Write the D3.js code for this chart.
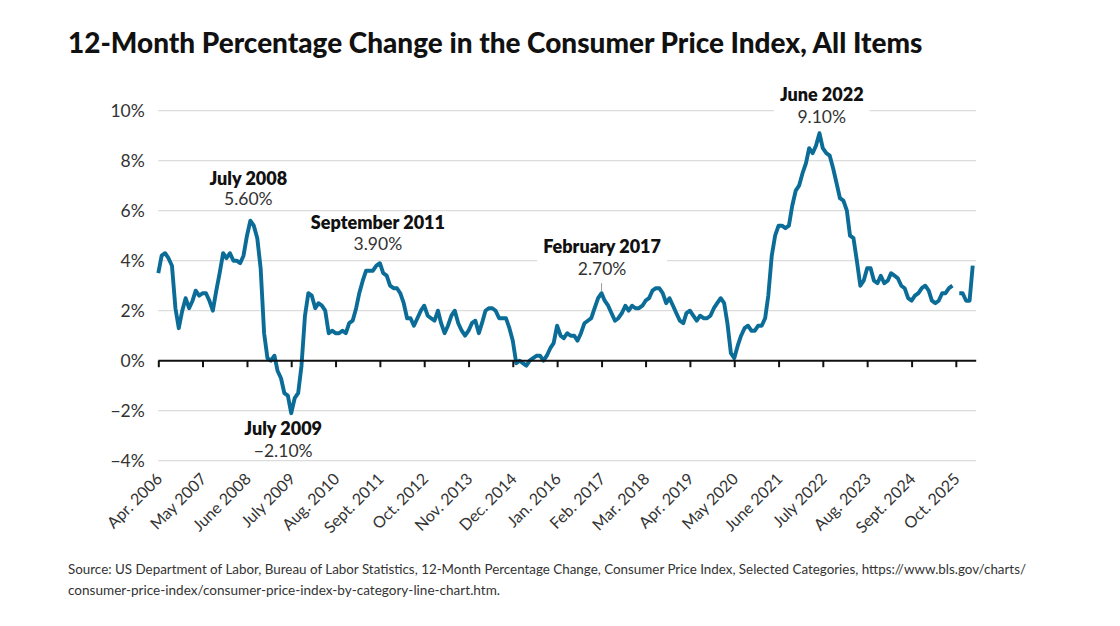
<!DOCTYPE html>
<html><head><meta charset="utf-8">
<script src="https://cdn.jsdelivr.net/npm/d3@7"></script>
<style>
html,body{margin:0;padding:0;background:#fff;}
svg{display:block;font-family:Lato,"Noto Sans",sans-serif;}
</style></head><body>
<svg id="chart" width="1120" height="626"></svg>
<script>
// ---------- DATA ----------
const firstMonth = "2006-04";   // first monthly observation
const lastAxisMonth = "2026-04"; // right end of the x axis
// 12-month % change, monthly from Apr 2006 (null = not published)
const cpi2006 = [3.5, 4.2, 4.3, 4.1, 3.8, 2.1, 1.3, 2.0, 2.5];
const cpi2007 = [2.1, 2.4, 2.8, 2.6, 2.7, 2.7, 2.4, 2.0, 2.8, 3.5, 4.3, 4.1];
const cpi2008 = [4.3, 4.0, 4.0, 3.9, 4.2, 5.0, 5.6, 5.4, 4.9, 3.7, 1.1, 0.1];
const cpi2009 = [0.0, 0.2, -0.4, -0.7, -1.3, -1.4, -2.1, -1.5, -1.3, -0.2, 1.8, 2.7];
const cpi2010 = [2.6, 2.1, 2.3, 2.2, 2.0, 1.1, 1.2, 1.1, 1.1, 1.2, 1.1, 1.5];
const cpi2011 = [1.6, 2.1, 2.7, 3.2, 3.6, 3.6, 3.6, 3.8, 3.9, 3.5, 3.4, 3.0];
const cpi2012 = [2.9, 2.9, 2.7, 2.3, 1.7, 1.7, 1.4, 1.7, 2.0, 2.2, 1.8, 1.7];
const cpi2013 = [1.6, 2.0, 1.5, 1.1, 1.4, 1.8, 2.0, 1.5, 1.2, 1.0, 1.2, 1.5];
const cpi2014 = [1.6, 1.1, 1.5, 2.0, 2.1, 2.1, 2.0, 1.7, 1.7, 1.7, 1.3, 0.8];
const cpi2015 = [-0.1, 0.0, -0.1, -0.2, 0.0, 0.1, 0.2, 0.2, 0.0, 0.2, 0.5, 0.7];
const cpi2016 = [1.4, 1.0, 0.9, 1.1, 1.0, 1.0, 0.8, 1.1, 1.5, 1.6, 1.7, 2.1];
const cpi2017 = [2.5, 2.7, 2.4, 2.2, 1.9, 1.6, 1.7, 1.9, 2.2, 2.0, 2.2, 2.1];
const cpi2018 = [2.1, 2.2, 2.4, 2.5, 2.8, 2.9, 2.9, 2.7, 2.3, 2.5, 2.2, 1.9];
const cpi2019 = [1.6, 1.5, 1.9, 2.0, 1.8, 1.6, 1.8, 1.7, 1.7, 1.8, 2.1, 2.3];
const cpi2020 = [2.5, 2.3, 1.5, 0.3, 0.1, 0.6, 1.0, 1.3, 1.4, 1.2, 1.2, 1.4];
const cpi2021 = [1.4, 1.7, 2.6, 4.2, 5.0, 5.4, 5.4, 5.3, 5.4, 6.2, 6.8, 7.0];
const cpi2022 = [7.5, 7.9, 8.5, 8.3, 8.6, 9.1, 8.5, 8.3, 8.2, 7.7, 7.1, 6.5];
const cpi2023 = [6.4, 6.0, 5.0, 4.9, 4.0, 3.0, 3.2, 3.7, 3.7, 3.2, 3.1, 3.4];
const cpi2024 = [3.1, 3.2, 3.5, 3.4, 3.3, 3.0, 2.9, 2.5, 2.4, 2.6, 2.7, 2.9];
const cpi2025 = [3.0, 2.8, 2.4, 2.3, 2.4, 2.7, 2.7, 2.9, 3.0, null, 2.7, 2.7];
const cpi2026 = [2.4, 2.4, 3.8];

const xTickLabels = ["Apr. 2006","May 2007","June 2008","July 2009","Aug. 2010","Sept. 2011",
  "Oct. 2012","Nov. 2013","Dec. 2014","Jan. 2016","Feb. 2017","Mar. 2018","Apr. 2019",
  "May 2020","June 2021","July 2022","Aug. 2023","Sept. 2024","Oct. 2025"];
const xTickStepMonths = 13;
const yTickValues = [-4, -2, 0, 2, 4, 6, 8, 10];

const annotationMonths = ["2008-07", "2009-07", "2011-09", "2017-02", "2022-06"];
const annotationTitles = ["July 2008", "July 2009", "September 2011", "February 2017", "June 2022"];
const annotationValues = ["5.60%", "\u22122.10%", "3.90%", "2.70%", "9.10%"];

const titleText = "12-Month Percentage Change in the Consumer Price Index, All Items";
const sourceLines = [
  "Source: US Department of Labor, Bureau of Labor Statistics, 12-Month Percentage Change, Consumer Price Index, Selected Categories, https://www.bls.gov/charts/",
  "consumer-price-index/consumer-price-index-by-category-line-chart.htm."
];

// ---------- BUILD ----------
const parseMonth = d3.timeParse("%Y-%m");
const allValues = [].concat(cpi2006,cpi2007,cpi2008,cpi2009,cpi2010,cpi2011,cpi2012,cpi2013,
  cpi2014,cpi2015,cpi2016,cpi2017,cpi2018,cpi2019,cpi2020,cpi2021,cpi2022,cpi2023,cpi2024,cpi2025,cpi2026);
const start = parseMonth(firstMonth);
const series = allValues.map((v, i) => ({date: d3.timeMonth.offset(start, i), value: v}));

const svg = d3.select("#chart");
const plot = {left: 158.3, right: 976.2, top: 110.7, bottom: 460.7};

const x = d3.scaleTime().domain([start, parseMonth(lastAxisMonth)]).range([plot.left, plot.right]);
const y = d3.scaleLinear().domain([-4, 10]).range([plot.bottom, plot.top]);

const textColor = "#333";
const lineColor = "#0b6d97";

// Title
const title = svg.append("text").attr("x", 68).attr("y", 53)
  .attr("font-size", 26).attr("font-weight", 900).attr("fill", "#111").text(titleText);
{
  const w = title.node().getComputedTextLength();
  title.attr("font-size", 26 * 855 / w);
}

// Gridlines (excluding zero)
svg.append("g").selectAll("line").data(yTickValues.filter(d => d !== 0)).join("line")
  .attr("x1", plot.left).attr("x2", plot.right)
  .attr("y1", d => y(d)).attr("y2", d => y(d))
  .attr("stroke", "#dcdcdc").attr("stroke-width", 1.3);

// Y axis labels
const yAxis = d3.axisLeft(y).tickValues(yTickValues).tickSize(0).tickPadding(0)
  .tickFormat(d => (d < 0 ? "\u2212" + Math.abs(d) : d) + "%");
const gy = svg.append("g").attr("transform", `translate(${plot.left - 13.5},0)`).call(yAxis);
gy.select(".domain").remove();
gy.selectAll("text").attr("font-size", 17.5).attr("fill", textColor)
  .attr("font-family", "Lato, 'Noto Sans', sans-serif");

// Annotation layout
const annoLayout = [
  {dx: -2, titleDy: -35.7, valueDy: -15.7},
  {dx: -8, titleDy: 21.8, valueDy: 43.5},
  {dx: -2, titleDy: -34, valueDy: -13},
  {dx: 0.5, titleDy: -40, valueDy: -18.2, leader: true},
  {dx: 2.3, titleDy: -32.5, valueDy: -10.5}
];
const annoData = annotationMonths.map((m, i) => {
  const d = parseMonth(m);
  const pt = series.find(s => +s.date === +d);
  return {date: d, value: pt.value, title: annotationTitles[i], label: annotationValues[i], lay: annoLayout[i]};
});
const annoBg = svg.append("g");

const xTickDates = xTickLabels.map((_, i) => d3.timeMonth.offset(start, i * xTickStepMonths));

// Line
const line = d3.line().defined(d => d.value !== null)
  .x(d => x(d.date)).y(d => y(d.value));
svg.append("path").datum(series).attr("d", line)
  .attr("fill", "none").attr("stroke", lineColor).attr("stroke-width", 3.9)
  .attr("stroke-linejoin", "round").attr("stroke-linecap", "butt");

// Axis at zero
const xAxis = d3.axisBottom(x).tickValues(xTickDates).tickSize(6.5).tickFormat("");
const gx = svg.append("g").attr("transform", `translate(0,${y(0)})`).call(xAxis);
gx.select(".domain").attr("d", `M${plot.left},0H${plot.right}`).attr("stroke", "#111").attr("stroke-width", 2);
gx.selectAll(".tick line").attr("stroke", "#111").attr("stroke-width", 2);

// X tick labels (rotated, placed below plot)
svg.append("g").selectAll("text").data(xTickDates).join("text")
  .attr("transform", d => `translate(${x(d) + 5},480) rotate(-45)`)
  .attr("text-anchor", "end").attr("font-size", 16).attr("fill", textColor)
  .text((d, i) => xTickLabels[i]);

// Annotations
annoData.forEach(a => {
  const cx = x(a.date) + a.lay.dx;
  const py = y(a.value);
  const g = svg.append("g");
  const t1 = g.append("text").attr("x", cx).attr("y", py + a.lay.titleDy)
    .attr("text-anchor", "middle").attr("font-size", 18).attr("font-weight", 800).attr("fill", "#111").text(a.title);
  const t2 = g.append("text").attr("x", cx).attr("y", py + a.lay.valueDy)
    .attr("text-anchor", "middle").attr("font-size", 17.5).attr("fill", textColor).text(a.label);
  const b1 = t1.node().getBBox(), b2 = t2.node().getBBox();
  const x0 = Math.min(b1.x, b2.x) - 6, x1 = Math.max(b1.x + b1.width, b2.x + b2.width) + 6;
  const y0 = Math.min(b1.y, b2.y) + 2, y1 = Math.max(b1.y + b1.height, b2.y + b2.height) - 3;
  annoBg.append("rect").attr("x", x0).attr("y", y0).attr("width", x1 - x0).attr("height", y1 - y0).attr("fill", "#fff");
  if (a.lay.leader) {
    svg.append("line").attr("x1", x(a.date)).attr("x2", x(a.date))
      .attr("y1", py - 10).attr("y2", py - 2).attr("stroke", "#999").attr("stroke-width", 1);
  }
});

// Source
svg.append("g").selectAll("text").data(sourceLines).join("text")
  .attr("x", 68).attr("y", (d, i) => 574 + i * 21)
  .attr("font-size", 13).attr("fill", textColor)
  .attr("textLength", (d, i) => i === 0 ? 958 : 432).attr("lengthAdjust", "spacingAndGlyphs")
  .text(d => d);
</script>
</body></html>
